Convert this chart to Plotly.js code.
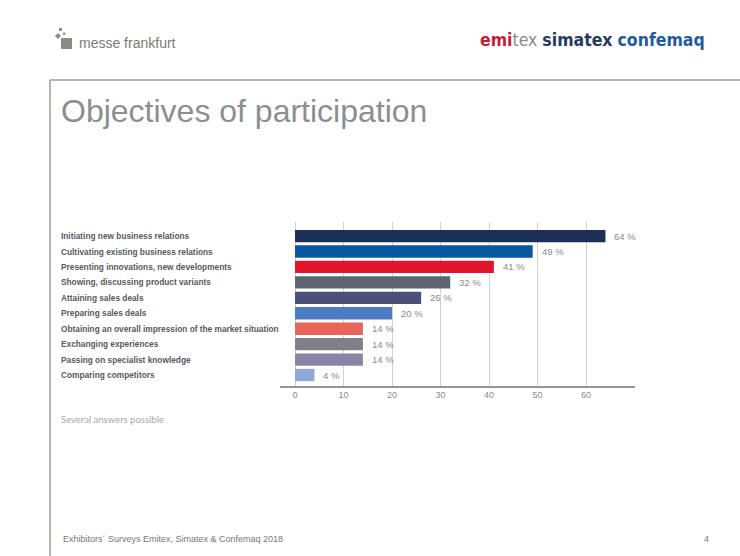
<!DOCTYPE html>
<html>
<head>
<meta charset="utf-8">
<script src="https://cdn.plot.ly/plotly-3.0.1.min.js"></script>
<style>html,body{margin:0;padding:0;background:#fff;}#chart{width:740px;height:556px;}</style>
</head>
<body>
<div id="chart"></div>
<script>
// ---- data ----
const categories = [
  "Initiating new business relations",
  "Cultivating existing business relations",
  "Presenting innovations, new developments",
  "Showing, discussing product variants",
  "Attaining sales deals",
  "Preparing sales deals",
  "Obtaining an overall impression of the market situation",
  "Exchanging experiences",
  "Passing on specialist knowledge",
  "Comparing competitors"
];
const values = [64, 49, 41, 32, 26, 20, 14, 14, 14, 4];
const barColors = ["#1b2f57", "#0b56a2", "#e1162d", "#5d6570", "#4a5079", "#4b7cc1", "#e9645a", "#80808a", "#8886a6", "#8fa7d9"];
const xTicks = [0, 10, 20, 30, 40, 50, 60];
const chartTitle = "Objectives of participation";
const note = "Several answers possible";
const footer = "Exhibitors´ Surveys Emitex, Simatex &amp; Confemaq 2018";
const pageNo = "4";

// ---- geometry helpers (pixel -> paper) ----
const W = 740, H = 556;
const M = {l: 280, r: 105, t: 222, b: 170};
const PW = W - M.l - M.r, PH = H - M.t - M.b;
const px = x => (x - M.l) / PW;
const py = y => (H - M.b - y) / PH;

const trace = {
  type: "bar",
  orientation: "h",
  y: categories,
  x: values,
  marker: {color: barColors, line: {width: 0}},
  hoverinfo: "skip"
};

const annotations = [];
categories.forEach((c, i) => {
  annotations.push({
    xref: "paper", yref: "y", x: px(59), y: c, xanchor: "left", yanchor: "middle",
    text: c, showarrow: false,
    font: {family: "Liberation Sans, Arial, sans-serif", size: 8.3, color: "#555a60", weight: "bold"}
  });
  annotations.push({
    xref: "x", yref: "y", x: values[i], y: c, xanchor: "left", yanchor: "middle",
    xshift: 7, text: values[i] + " %", showarrow: false,
    font: {family: "Liberation Sans, Arial, sans-serif", size: 9.5, color: "#8a8a8a"}
  });
});

// title
annotations.push({xref: "paper", yref: "paper", x: px(59), y: py(111), xanchor: "left", yanchor: "middle",
  text: chartTitle, showarrow: false,
  font: {family: "Liberation Sans, Arial, sans-serif", size: 32, color: "#8b8f92"}});
// note
annotations.push({xref: "paper", yref: "paper", x: px(59), y: py(419), xanchor: "left", yanchor: "middle",
  text: note, showarrow: false,
  font: {family: "Lato, Liberation Sans, sans-serif", size: 9.5, color: "#a8a8a8"}});
// footer
annotations.push({xref: "paper", yref: "paper", x: px(61), y: py(539), xanchor: "left", yanchor: "middle",
  text: footer, showarrow: false,
  font: {family: "Liberation Sans, Arial, sans-serif", size: 9, color: "#777"}});
annotations.push({xref: "paper", yref: "paper", x: px(706), y: py(539), xanchor: "center", yanchor: "middle",
  text: pageNo, showarrow: false,
  font: {family: "Liberation Sans, Arial, sans-serif", size: 9, color: "#777"}});
// header logos
annotations.push({xref: "paper", yref: "paper", x: px(77), y: py(43), xanchor: "left", yanchor: "middle",
  text: "messe frankfurt", showarrow: false,
  font: {family: "Liberation Sans, Arial, sans-serif", size: 14, color: "#7a7a7a"}});
annotations.push({xref: "paper", yref: "paper", x: px(707), y: py(40), xanchor: "right", yanchor: "middle",
  text: '<span style="color:#c41d3b;font-weight:bold">emi</span><span style="color:#8a8a8a">tex</span> ' +
        '<span style="color:#26395f;font-weight:bold">simatex</span> ' +
        '<span style="color:#1f5c99;font-weight:bold">confemaq</span>',
  showarrow: false,
  font: {family: "DejaVu Sans Condensed, Liberation Sans Narrow, sans-serif", size: 17.5, color: "#333"}});

const shapes = [
  // frame lines
  {type: "line", xref: "paper", yref: "paper", x0: px(50), x1: px(740), y0: py(80), y1: py(80), line: {color: "#9d9d9d", width: 1.5}},
  {type: "line", xref: "paper", yref: "paper", x0: px(50), x1: px(50), y0: py(80), y1: py(556), line: {color: "#9d9d9d", width: 1.5}},
  // logo icon squares
  {type: "rect", xref: "paper", yref: "paper", x0: px(61), x1: px(72), y0: py(49), y1: py(38), line: {width: 0}, fillcolor: "#8a8a8a"},
  {type: "path", xref: "paper", yref: "paper", line: {width: 0}, fillcolor: "#8a8a8a",
   path: `M ${px(55)} ${py(36)} L ${px(58)} ${py(33)} L ${px(61)} ${py(36)} L ${px(58)} ${py(39)} Z`},
  {type: "rect", xref: "paper", yref: "paper", x0: px(59), x1: px(62), y0: py(31), y1: py(28), line: {width: 0}, fillcolor: "#8a8a8a"},
  {type: "rect", xref: "paper", yref: "paper", x0: px(63), x1: px(65.5), y0: py(35), y1: py(32.5), line: {width: 0}, fillcolor: "#9a9a9a"}
];

const layout = {
  width: W, height: H,
  margin: M,
  paper_bgcolor: "#fff", plot_bgcolor: "#fff",
  showlegend: false,
  bargap: 0.2,
  xaxis: {
    range: [-3.1, 70.1], tickvals: xTicks, ticktext: xTicks.map(String),
    showgrid: true, gridcolor: "#d2d2d2", gridwidth: 1, zeroline: false,
    showline: true, linecolor: "#949494", linewidth: 1.5,
    ticks: "", ticklabelstandoff: 0,
    tickfont: {family: "Liberation Sans, Arial, sans-serif", size: 9, color: "#8a8a8a"},
    fixedrange: true
  },
  yaxis: {
    type: "category", categoryorder: "array", categoryarray: categories,
    range: [9.71, -0.91], showticklabels: false, showgrid: false, zeroline: false, showline: false,
    ticks: "", fixedrange: true
  },
  annotations: annotations,
  shapes: shapes
};

Plotly.newPlot("chart", [trace], layout, {displayModeBar: false, staticPlot: true});
</script>
</body>
</html>
